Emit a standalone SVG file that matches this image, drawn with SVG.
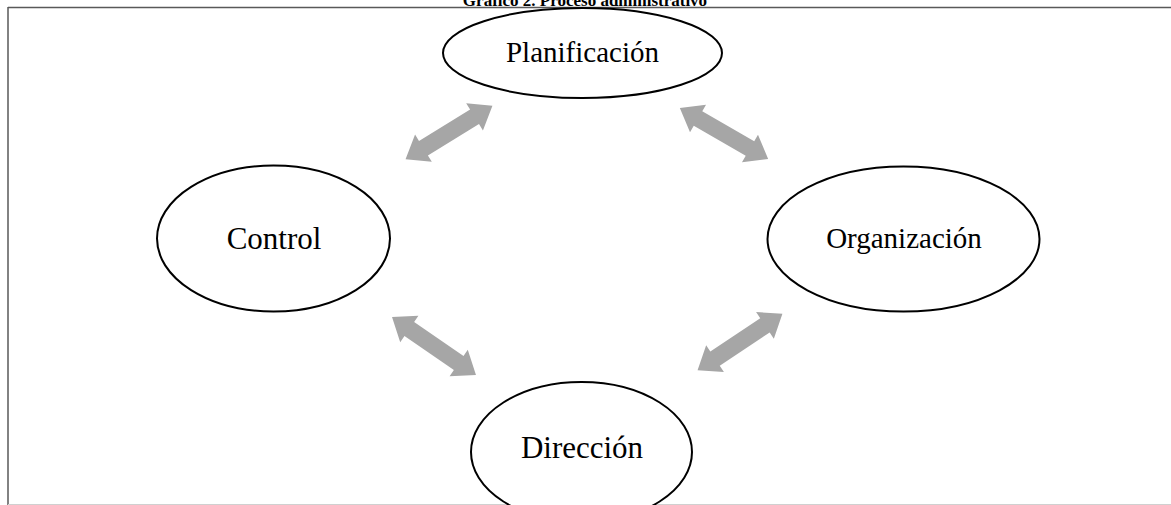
<svg xmlns="http://www.w3.org/2000/svg" width="1171" height="505" viewBox="0 0 1171 505">
<style>
.node ellipse{fill:#fff;stroke:#000;stroke-width:2}
.lbl{font-family:"Liberation Serif","Times New Roman",serif;fill:#000;text-anchor:middle}
.arrow{fill:#a6a6a6}
</style>
<defs>
<path id="dbl" d="M-51,0 L-30,-16 L-30,-8.5 L30,-8.5 L30,-16 L51,0 L30,16 L30,8.5 L-30,8.5 L-30,16 Z"/>
</defs>
<rect x="0" y="0" width="1171" height="505" fill="#fff"/>
<text class="lbl" x="585" y="6" font-size="17" font-weight="bold">Gráfico  2. Proceso administrativo</text>
<g id="frame" fill="none">
<line x1="8" y1="7.5" x2="1171" y2="7.5" stroke="#595959" stroke-width="1.5"/>
<line x1="8" y1="7" x2="8" y2="505" stroke="#595959" stroke-width="1.5"/>
<line x1="8" y1="504.5" x2="1171" y2="504.5" stroke="#d0d0d0" stroke-width="1"/>
</g>
<g id="connectors" class="arrow">
<use href="#dbl" transform="translate(449,132.5) rotate(-31.6)"/>
<use href="#dbl" transform="translate(724,133.5) rotate(30)"/>
<use href="#dbl" transform="translate(434,346) rotate(34.6)"/>
<use href="#dbl" transform="translate(740,342) rotate(-33.7)"/>
</g>
<g id="planificacion" class="node">
<ellipse cx="582.5" cy="53" rx="139.5" ry="45"/>
<text class="lbl" x="582.5" y="62" font-size="29">Planificación</text>
</g>
<g id="control" class="node">
<ellipse cx="273.5" cy="238.5" rx="116.5" ry="73"/>
<text class="lbl" x="274" y="249" font-size="31">Control</text>
</g>
<g id="organizacion" class="node">
<ellipse cx="903.5" cy="239" rx="136" ry="72.5"/>
<text class="lbl" x="904" y="248" font-size="29">Organización</text>
</g>
<g id="direccion" class="node">
<ellipse cx="581.5" cy="452" rx="110.5" ry="70"/>
<text class="lbl" x="582" y="458" font-size="31">Dirección</text>
</g>
</svg>
